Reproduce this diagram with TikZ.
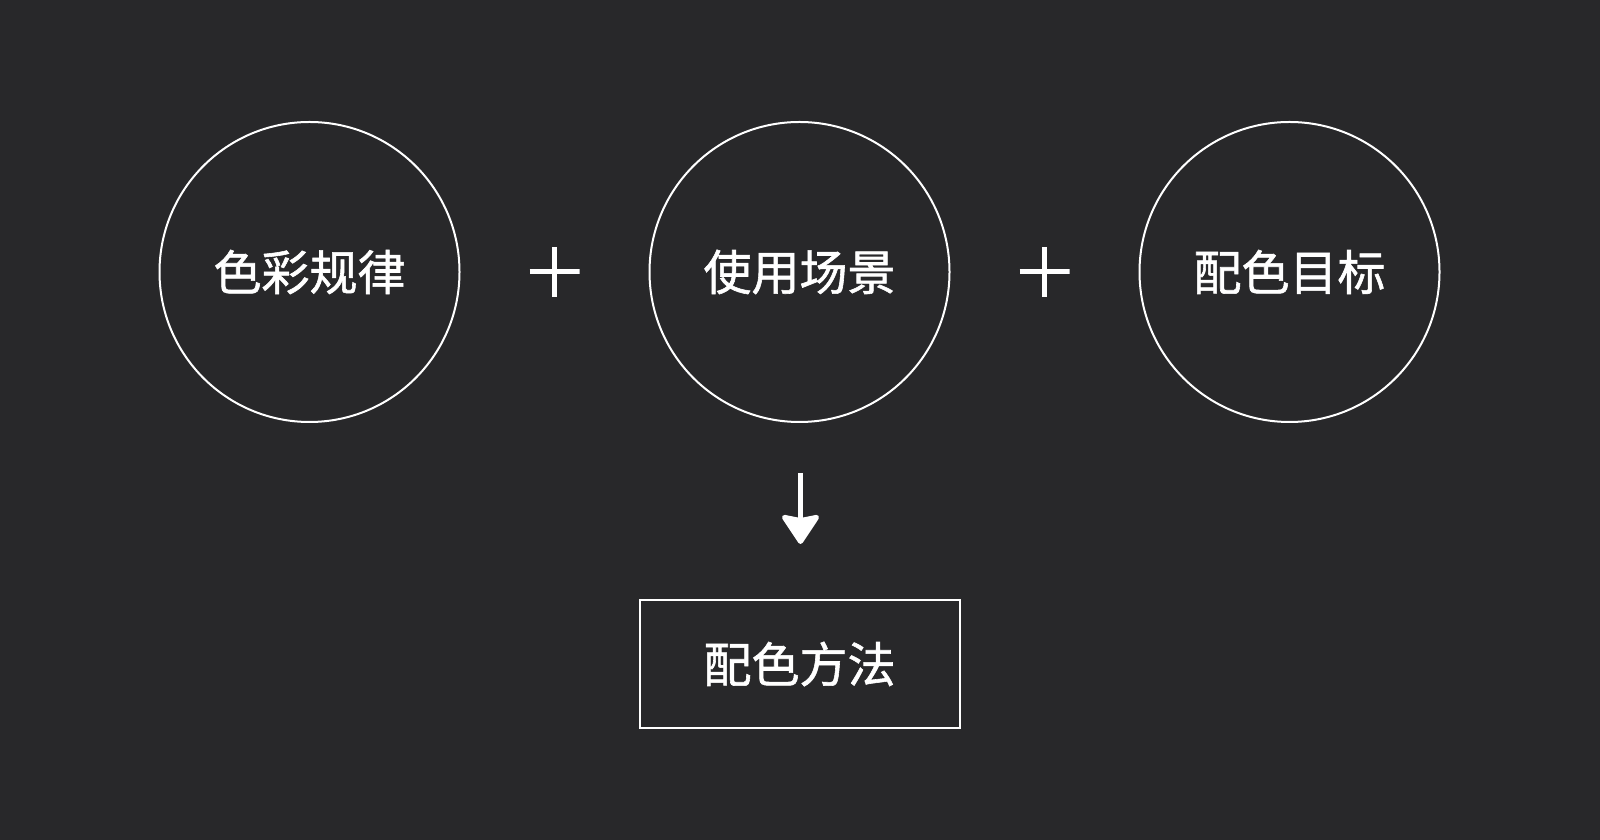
\documentclass[tikz,border=0pt]{standalone}
\usepackage{fontspec}
\newfontfamily\cjk{Noto Sans CJK SC}[FakeBold=1.2]
\usepackage{tikz}
\usetikzlibrary{positioning, arrows.meta}
\definecolor{board}{RGB}{40,40,42}
\tikzset{
    topic/.style={circle, draw=white, line width=2pt, minimum size=300pt, inner sep=0pt, text=white, font=\cjk\fontsize{48}{58}\selectfont},
    method/.style={rectangle, draw=white, line width=2pt, minimum width=320pt, minimum height=128pt, inner sep=0pt, text=white, font=\cjk\fontsize{48}{58}\selectfont},
    plusmark/.style={minimum size=50pt, inner sep=0pt, path picture={\draw[white, line width=5pt] (path picture bounding box.north) -- (path picture bounding box.south) (path picture bounding box.west) -- (path picture bounding box.east);}},
    flow/.style={white, line width=5pt, -{Stealth[length=32pt, width=42pt, inset=4pt, round]}},
}

\begin{document}
\begin{tikzpicture}[x=1pt, y=1pt]
        \fill[board] (0,0) rectangle (1600,840);
        \node [topic] (rule) at (309.5,568) {色彩规律};
        \node [topic] (scene) [right=188pt of rule] {使用场景};
        \node [topic] (goal) [right=188pt of scene] {配色目标};
        \path (rule) -- (scene) node [plusmark, midway] (plusA) {};
        \path (scene) -- (goal) node [plusmark, midway] (plusB) {};
        \node [method] (way) [below=176pt of scene] {配色方法};
        \coordinate (flowtop) at ([xshift=1pt, yshift=-50pt]scene.south);
        \coordinate (flowend) at ([xshift=1pt, yshift=55pt]way.north);
        \draw[flow] (flowtop) -- (flowend);
    \end{tikzpicture}
\end{document}
